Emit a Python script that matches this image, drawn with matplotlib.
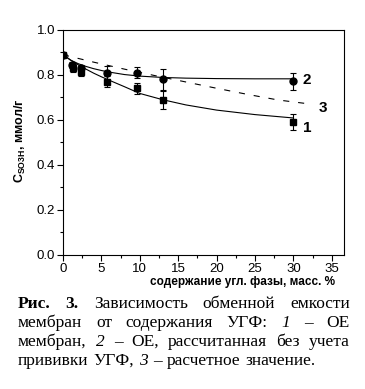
import matplotlib
matplotlib.use("Agg")
import matplotlib.pyplot as plt

plt.rcParams['font.family'] = ['Liberation Sans', 'DejaVu Sans']
plt.rcParams['mathtext.fontset'] = 'custom'
plt.rcParams['mathtext.bf'] = 'Liberation Sans:bold'
plt.rcParams['mathtext.rm'] = 'Liberation Sans'

# measured points: 1 - exchange capacity, 2 - capacity without grafting
X1 = [0, 1.3, 2.3, 5.7, 9.7, 13, 30]
Y1 = [0.89, 0.83, 0.815, 0.77, 0.74, 0.69, 0.59]
E1 = [0, 0.018, 0.02, 0.025, 0.025, 0.04, 0.035]

X2 = [0, 1.2, 2.3, 5.7, 9.7, 13, 30]
Y2 = [0.89, 0.845, 0.83, 0.81, 0.81, 0.78, 0.772]
E2 = [0, 0.012, 0.015, 0.03, 0.025, 0.045, 0.037]

# fitted curves
FX = [0, 1, 2, 3, 4, 5, 6, 8, 10, 13, 16, 20, 25, 30]
FIT1 = [0.890, 0.866, 0.845, 0.826, 0.808, 0.792, 0.777, 0.748, 0.718, 0.690,
        0.667, 0.644, 0.624, 0.609]
FIT2 = [0.890, 0.866, 0.850, 0.838, 0.828, 0.820, 0.813, 0.802, 0.795, 0.789,
        0.786, 0.784, 0.783, 0.783]

# 3 - calculated value (dashed)
X3 = [0, 4, 8, 12, 16, 20, 24, 28, 32.4]
Y3 = [0.890, 0.857, 0.826, 0.797, 0.769, 0.741, 0.714, 0.689, 0.670]

fig = plt.figure(figsize=(3.65, 3.89), dpi=100)
ax = fig.add_axes([0.1726, 0.3445, 0.77, 0.5784])

ax.plot(FX, FIT1, color='black', lw=0.8)
ax.plot(FX, FIT2, color='black', lw=0.8)
ax.plot(X3, Y3, color='black', lw=0.8, linestyle=(0, (5.5, 8)))

ax.errorbar(X1, Y1, yerr=E1, fmt='s', color='black', ms=5, capsize=2.5,
            elinewidth=0.8, capthick=0.8)
ax.errorbar(X2, Y2, yerr=E2, fmt='o', color='black', ms=5, capsize=2.5,
            elinewidth=0.8, capthick=0.8)

ax.text(31.2, 0.778, '2', fontsize=11, fontweight='bold', va='center')
ax.text(33.3, 0.653, '3', fontsize=11, fontweight='bold', va='center')
ax.text(31.3, 0.566, '1', fontsize=11, fontweight='bold', va='center')

ax.set_xlim(0, 36.6)
ax.set_ylim(0, 1.0)
ax.set_xticks([0, 5, 10, 15, 20, 25, 30, 35])
ax.set_xticks([2.5, 7.5, 12.5, 17.5, 22.5, 27.5, 32.5], minor=True)
ax.set_yticks([0, 0.2, 0.4, 0.6, 0.8, 1.0])
ax.set_yticklabels(['0.0', '0.2', '0.4', '0.6', '0.8', '1.0'])
ax.set_yticks([0.1, 0.3, 0.5, 0.7, 0.9], minor=True)
ax.tick_params(which='major', direction='out', length=4, width=0.8,
               labelsize=9.5, pad=1.5)
ax.tick_params(which='minor', direction='out', length=2, width=0.8)
for s in ax.spines.values():
    s.set_linewidth(0.8)

ax.set_xlabel('содержание угл. фазы, масс. %', fontsize=8.5, fontweight='bold',
              ha='right')
ax.xaxis.set_label_coords(0.968, -0.095)
ax.set_ylabel(r'C$\mathbf{_{SO3H}}$, ммол/г', fontsize=9, fontweight='bold')
ax.yaxis.set_label_coords(-0.125, 0.51)

# caption, justified between two margins
CAPTION = [
    [('Рис.', 'bold', 'normal'), ('3.', 'bold', 'normal'), ('Зависимость', 'normal', 'normal'),
     ('обменной', 'normal', 'normal'), ('емкости', 'normal', 'normal')],
    [('мембран', 'normal', 'normal'), ('от', 'normal', 'normal'),
     ('содержания', 'normal', 'normal'), ('УГФ:', 'normal', 'normal'),
     ('1', 'normal', 'italic'), ('–', 'normal', 'normal'), ('ОЕ', 'normal', 'normal')],
    [('мембран,', 'normal', 'normal'), ('2', 'normal', 'italic'), ('–', 'normal', 'normal'),
     ('ОЕ,', 'normal', 'normal'), ('рассчитанная', 'normal', 'normal'),
     ('без', 'normal', 'normal'), ('учета', 'normal', 'normal')],
    [('прививки', 'normal', 'normal'), ('УГФ,', 'normal', 'normal'),
     ('3', 'normal', 'italic'), ('–', 'normal', 'normal'),
     ('расчетное', 'normal', 'normal'), ('значение.', 'normal', 'normal')],
]
LINE_Y = [304, 323, 342, 361]

W, H = 365, 389
left, right = 18, 350
renderer = fig.canvas.get_renderer()
for i, words in enumerate(CAPTION):
    texts = []
    for w, weight, style in words:
        t = fig.text(0, 1 - LINE_Y[i] / H, w, fontsize=12.5, family='Liberation Serif',
                     fontweight=weight, fontstyle=style, va='center', ha='left')
        texts.append(t)
    widths = [t.get_window_extent(renderer).width for t in texts]
    if i < len(CAPTION) - 1:
        gap = (right - left - sum(widths)) / (len(texts) - 1)
    else:
        gap = 5
    x = left
    for t, wd in zip(texts, widths):
        t.set_x(x / W)
        x += wd + gap

fig.savefig('out.png', dpi=100)
